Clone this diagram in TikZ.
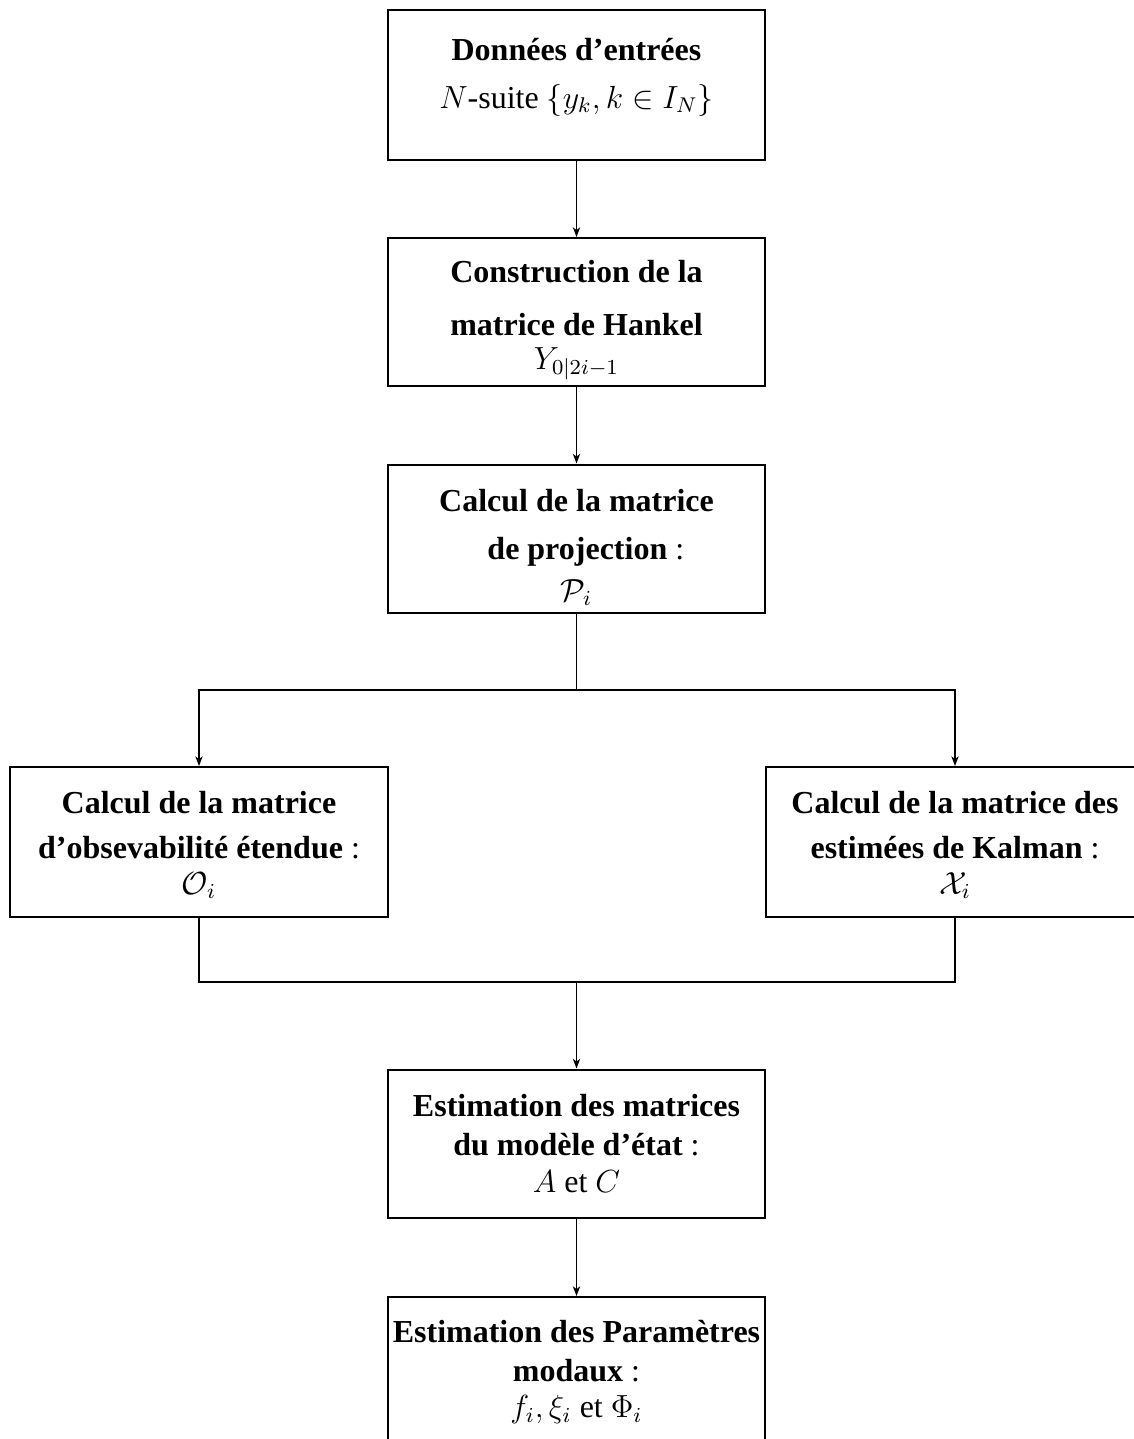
\documentclass[tikz,border=0pt]{standalone}
\usepackage[no-math]{fontspec}
\setmainfont{Liberation Serif}
\usetikzlibrary{arrows.meta}
\begin{document}
\begin{tikzpicture}[x=0.375pt,y=-0.375pt,
  box/.style={draw,line width=0.75pt,minimum width=141.4pt,minimum height=55.5pt,
    inner sep=1pt,align=center,font=\fontsize{12}{14.4}\selectfont},
  conn/.style={line width=0.7pt},
  arr/.style={conn,-{Stealth[length=3.6pt,width=2.7pt,inset=1pt]}}]
\useasboundingbox (0,0) rectangle (1134,1439);
\clip (0,0) rectangle (1134,1439);
\node[box,minimum height=56.25pt] (b1) at (576.5,85)
  {\textbf{Données d’entrées}\\[3.6pt]$N$-suite $\{y_k, k\in I_N\}$\rule[-9pt]{0pt}{9pt}};
\node[box] (b2) at (576.5,312)
  {\rule{0pt}{14.6pt}\textbf{Construction de la}\\[5.5pt]\textbf{matrice de Hankel}\\[-1.65pt]$Y_{0|2i-1}$};
\node[box] (b3) at (576.5,538.5)
  {\rule{0pt}{15pt}\textbf{Calcul de la matrice}\\[3.6pt]\hspace*{7pt}\textbf{de projection} :\\[1.3pt]$\mathcal{P}_i$};
\node[box,minimum height=56.25pt] (bl) at (199,842)
  {\rule{0pt}{10.6pt}\textbf{Calcul de la matrice}\\[2.5pt]\textbf{d’obsevabilité étendue} :\\[-1pt]$\mathcal{O}_i$};
\node[box,minimum height=56.25pt] (br) at (955,842)
  {\rule{0pt}{10.6pt}\textbf{Calcul de la matrice des}\\[2.5pt]\textbf{estimées de Kalman} :\\[-1pt]$\mathcal{X}_i$};
\node[box] (b5) at (576.5,1143.5)
  {\textbf{Estimation des matrices}\\\textbf{du modèle d’état} :\\[-0.6pt]$A$ et $C$};
\node[box,minimum height=56.25pt] (b6) at (576.5,1372)
  {\textbf{Estimation des Paramètres}\\\textbf{modaux} :\\[-0.9pt]$f_i, \xi_i$ et $\Phi_i$};
\coordinate (j1) at (576.5,690);
\coordinate (j2) at (576.5,982);
\draw[arr] (b1) -- (b2);
\draw[arr] (b2) -- (b3);
\draw[conn] (b3.south) -- (j1);
\draw[arr] (j1) -| (bl.north);
\draw[arr] (j1) -| (br.north);
\draw[conn] (bl.south) |- (j2);
\draw[conn] (br.south) |- (j2);
\draw[arr] (j2) -- (b5.north);
\draw[arr] (b5) -- (b6);
\end{tikzpicture}
\end{document}
